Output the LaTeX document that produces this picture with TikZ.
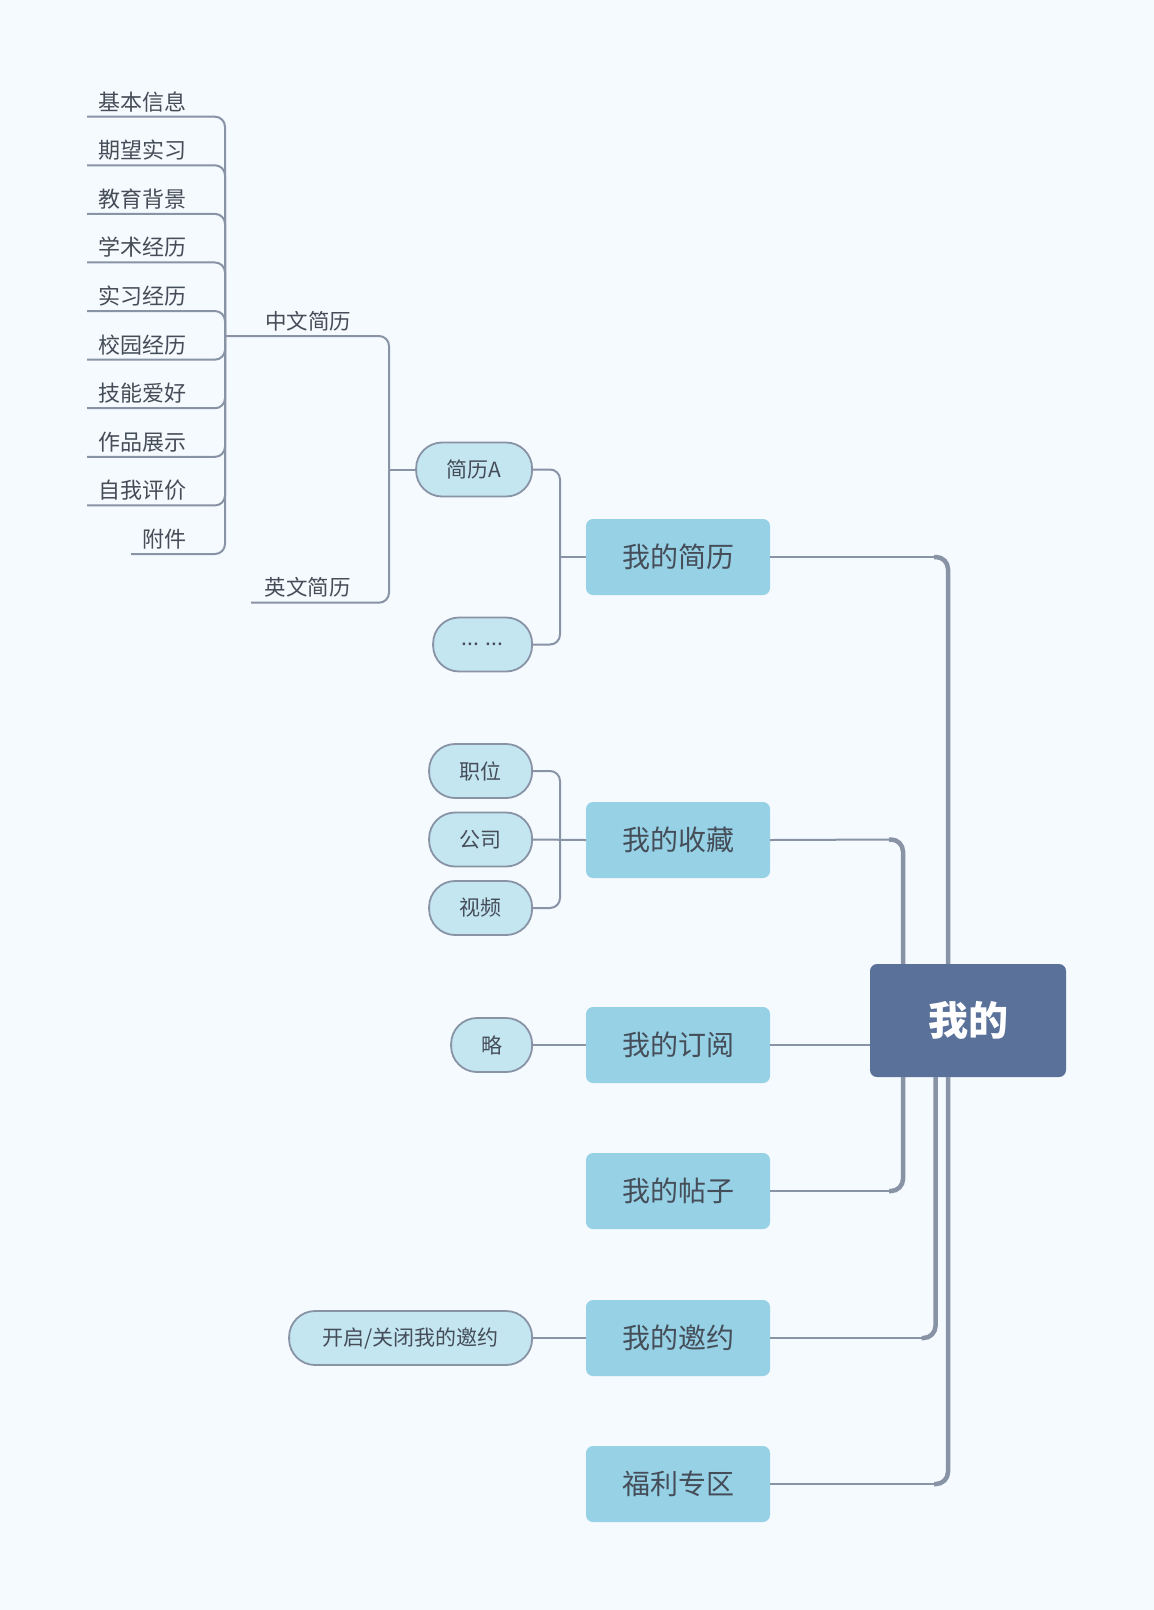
\documentclass[tikz,border=0pt]{standalone}
\usepackage{fontspec}
\setmainfont{Noto Sans CJK SC}
\definecolor{bgc}{HTML}{F5FAFE}
\definecolor{linec}{HTML}{8893A6}
\definecolor{mainc}{HTML}{96D1E6}
\definecolor{smallc}{HTML}{C4E6F1}
\definecolor{rootc}{HTML}{5A7199}
\definecolor{txtc}{HTML}{454D58}
\begin{document}
\begin{tikzpicture}[x=1pt,y=-1pt,
  conn/.style={draw=linec,line width=2pt,rounded corners=10pt},
  trunk/.style={draw=linec,line width=4.5pt,rounded corners=12pt},
  leaftext/.style={inner sep=0pt,text=txtc,font=\fontsize{22}{26}\selectfont},
  mainbox/.style={fill=mainc,rounded corners=7pt,minimum width=184pt,minimum height=76pt,inner sep=0pt,text=txtc,font=\fontsize{28}{32}\selectfont},
  smallbox/.style={fill=smallc,draw=linec,line width=1.8pt,rounded corners=26pt,minimum height=54pt,inner sep=0pt,text=txtc,font=\fontsize{21}{25}\selectfont},
  rootbox/.style={fill=rootc,rounded corners=7pt,minimum width=196pt,minimum height=113pt,inner sep=0pt,text=white,font=\fontsize{40}{46}\selectfont\bfseries}]
\useasboundingbox[fill=bgc] (0,0) rectangle (1154,1610);

% root and main nodes
\node[rootbox] (root) at (968,1020.5) {我的};
\node[mainbox] (cv) at (678,557) {我的简历};
\node[mainbox] (fav) at (678,840) {我的收藏};
\node[mainbox] (sub) at (678,1045) {我的订阅};
\node[mainbox] (post) at (678,1191) {我的帖子};
\node[mainbox] (inv) at (678,1338) {我的邀约};
\node[mainbox] (wel) at (678,1484) {福利专区};

% small nodes
\node[smallbox,minimum width=116pt,anchor=east] (jA) at (533,469.5) {简历A};
\node[smallbox,minimum width=99pt,anchor=east] (more) at (533,644.5) {... ...};
\node[smallbox,minimum width=103pt,anchor=east] (pos) at (533,771) {职位};
\node[smallbox,minimum width=103pt,anchor=east] (com) at (533,839.5) {公司};
\node[smallbox,minimum width=103pt,anchor=east] (vid) at (533,908) {视频};
\node[smallbox,minimum width=81pt,anchor=east] (lue) at (533,1045) {略};
\node[smallbox,minimum width=243pt,anchor=east] (onoff) at (533,1338) {开启/关闭我的邀约};

% leaf texts
\coordinate (zhs) at (225,336);
\coordinate (zhb) at (389,469.5);
\foreach \t [count=\i, evaluate=\i as \yy using 116.7+(\i-1)*48.59] in {基本信息,期望实习,教育背景,学术经历,实习经历,校园经历,技能爱好,作品展示,自我评价}{
  \coordinate (s\i) at (87,\yy);
  \node[leaftext,anchor=base east] (t\i) at (187,\yy-6.5) {\t};
  \draw[conn] (s\i) -| (zhs);
}
\coordinate (s10) at (131,554);
\node[leaftext,anchor=base east] (t10) at (187,547.5) {附件};
\draw[conn] (s10) -| (zhs);

% 中文简历 / 英文简历
\node[leaftext,font=\fontsize{21.5}{26}\selectfont,anchor=base] (zh) at (308,329) {中文简历};
\node[leaftext,font=\fontsize{21.5}{26}\selectfont,anchor=base] (en) at (307.5,595.5) {英文简历};
\coordinate (ens) at (251,602.7);
\draw[conn] (zhs) -| (zhb);
\draw[conn] (ens) -| (zhb);
\draw[conn] (zhb) -- (jA.west);

% to 我的简历
\coordinate (cvj) at (560,557);
\draw[conn] (jA.east) -| (cvj);
\draw[conn] (more.east) -| (cvj);
\draw[conn] (cvj) -- (cv.west);

% to 我的收藏
\coordinate (favj) at (560,839.5);
\draw[conn] (pos.east) -| (favj);
\draw[conn] (vid.east) -| (favj);
\draw[conn] (com.east) -- (fav.west);

% others
\draw[conn] (lue.east) -- (sub.west);
\draw[conn] (onoff.east) -- (inv.west);

% to root
\draw[conn] (cv.east) -- (940,557);
\draw[trunk] (root.north -| 948,0) -- (948,557) -- (934,557);
\draw[conn] (fav.east) -- (895,839.5);
\draw[trunk] (root.north -| 903,0) -- (903,839.5) -- (889,839.5);
\draw[conn] (sub.east) -- (root.west |- 0,1045);
\draw[conn] (post.east) -- (895,1191);
\draw[trunk] (root.south -| 903,0) -- (903,1191) -- (889,1191);
\draw[conn] (inv.east) -- (927,1338);
\draw[trunk] (root.south -| 935.5,0) -- (935.5,1338) -- (921.5,1338);
\draw[conn] (wel.east) -- (940,1484);
\draw[trunk] (root.south -| 948,0) -- (948,1484) -- (934,1484);
\end{tikzpicture}
\end{document}
